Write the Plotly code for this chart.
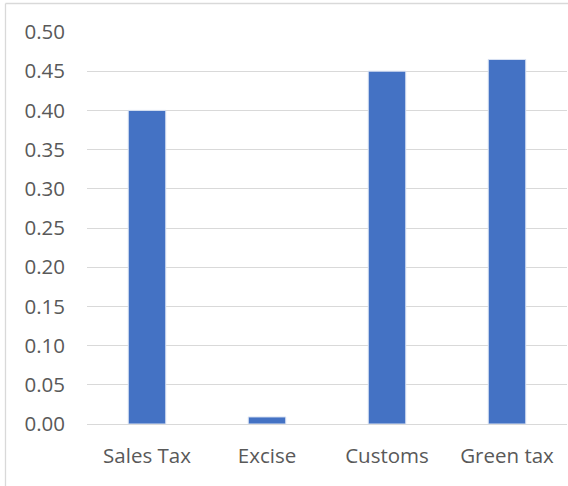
import plotly.graph_objects as go

categories = ["Sales Tax", "Excise", "Customs", "Green tax"]
values = [0.40, 0.009, 0.45, 0.465]
y_ticks = [0.0, 0.05, 0.10, 0.15, 0.20, 0.25, 0.30, 0.35, 0.40, 0.45, 0.50]

fig = go.Figure(go.Bar(
    x=categories, y=values,
    marker=dict(color="#4472C4", line=dict(color="#DAE3F3", width=1)),
    hoverinfo="x+y",
))

W, H = 568, 486
L, R, T, B = 87, 1, 32, 62
pw, ph = W - L - R, H - T - B

def px(x):
    return (x - L) / pw

def py(y):
    return (H - B - y) / ph

fig.update_layout(
    width=W, height=H,
    margin=dict(l=L, r=R, t=T, b=B, pad=0),
    paper_bgcolor="white", plot_bgcolor="white",
    bargap=0.6875,
    showlegend=False,
    font=dict(family="Open Sans, Liberation Sans, sans-serif", size=20.5, color="#595959"),
    xaxis=dict(showgrid=False, showline=True, linecolor="#D9D9D9", linewidth=1.3,
               ticks="", ticklabelstandoff=13, tickfont=dict(size=20.5, color="#595959"),
               fixedrange=True),
    yaxis=dict(range=[0, 0.5], tickvals=y_ticks, tickformat=".2f",
               showgrid=True, gridcolor="#D9D9D9", gridwidth=1.3,
               zeroline=False, showline=False, ticks="",
               ticklabelstandoff=21, tickfont=dict(size=20.5, color="#595959"),
               fixedrange=True),
    shapes=[
        dict(type="line", xref="paper", yref="paper",
             x0=px(5.5), x1=px(5.5), y0=py(3.5), y1=py(490),
             line=dict(color="#D9D9D9", width=1.3)),
        dict(type="line", xref="paper", yref="paper",
             x0=px(5.5), x1=px(575), y0=py(3.5), y1=py(3.5),
             line=dict(color="#D9D9D9", width=1.3)),
    ],
)

fig.write_html("out.html", config={"displayModeBar": False},
               post_script="document.body.style.margin='0';")
